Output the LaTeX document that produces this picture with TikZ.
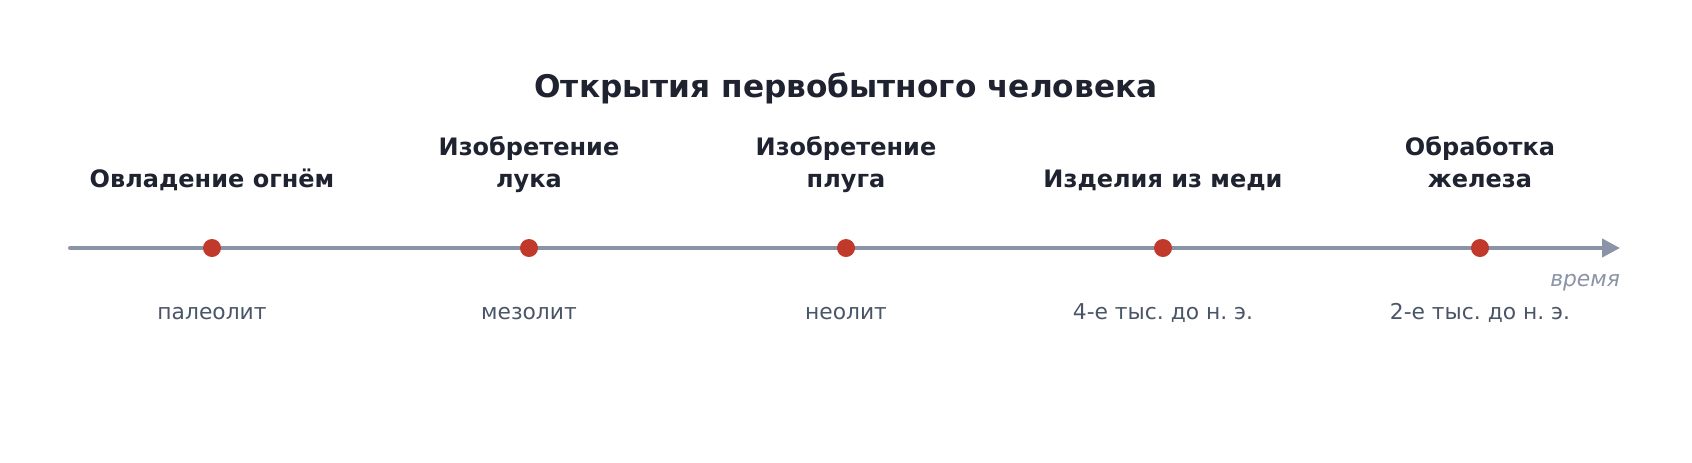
\documentclass[tikz,border=0pt]{standalone}
\usepackage{fontspec}
\setmainfont{DejaVu Sans}
\usepackage{tikz}
\usetikzlibrary{arrows.meta}
\frenchspacing
\definecolor{inkdark}{HTML}{1F2330}
\definecolor{inksub}{HTML}{4A5568}
\definecolor{axisgray}{HTML}{8A94A6}
\definecolor{dotred}{HTML}{C0392B}
\tikzset{
  eventdot/.style = {circle,fill=dotred,inner sep=0pt,minimum size=9pt},
  eventlabel/.style = {font=\fontsize{12}{16}\selectfont\bfseries,text=inkdark,align=center,anchor=base},
  eralabel/.style = {font=\fontsize{10.9}{13}\selectfont,text=inksub,anchor=base}
}
\NewDocumentCommand{\timeevent}{m m m m}{%
\node[eventdot] (d#1) at (#2,-248) {};
\node[eventlabel] (l#1) at (#2,-187) {#3};
\node[eralabel] (e#1) at (#2,-319) {#4};
}

\begin{document}
\begin{tikzpicture}[x=0.5pt,y=0.5pt]
\useasboundingbox (0,0) rectangle (1692,-462);
\node[font=\fontsize{15.6}{18}\selectfont\bfseries,text=inkdark,anchor=base] (title) at (846,-97) {Открытия первобытного человека};

\coordinate (axstart) at (70,-248);
\coordinate (axend) at (1620,-248);
\draw[axisgray,line width=2pt,line cap=round,-{Triangle[length=9pt,width=9pt]}] (axstart) -- (axend);
\node[font=\fontsize{10.9}{13}\selectfont\itshape,text=axisgray,anchor=base east] (time) at (1627,-286) {время};

\timeevent{1}{212}{Овладение огнём}{палеолит}
\timeevent{2}{529}{Изобретение\\лука}{мезолит}
\timeevent{3}{846}{Изобретение\\плуга}{неолит}
\timeevent{4}{1163}{Изделия из меди}{4-е тыс. до н. э.}
\timeevent{5}{1480}{Обработка\\железа}{2-е тыс. до н. э.}
\end{tikzpicture}
\end{document}
